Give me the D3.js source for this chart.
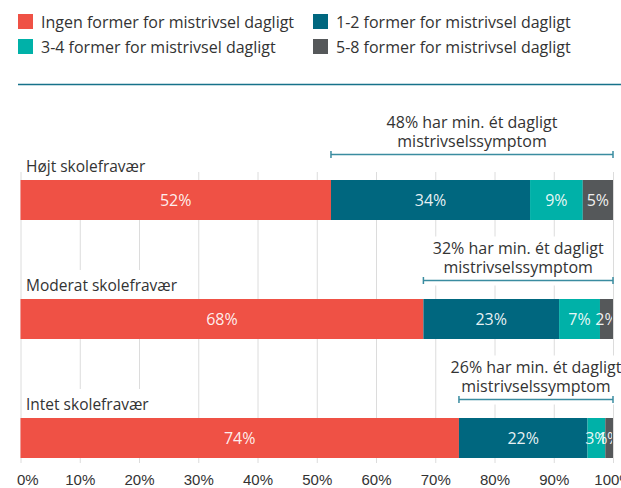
<!DOCTYPE html>
<html>
<head>
<meta charset="utf-8">
<script src="https://cdn.jsdelivr.net/npm/d3@7"></script>
<style>
  body { margin: 0; background: #fff; }
  svg { display: block; font-family: "Open Sans", sans-serif; }
  .axis text { font-size: 15px; fill: #333; }
  .axis .domain { display: none; }
  .axis line { stroke: #dcdcdc; }
</style>
</head>
<body>
<svg id="chart" width="621" height="488"></svg>
<script>
// ---------- data ----------
const categories = ["Højt skolefravær", "Moderat skolefravær", "Intet skolefravær"];
const seriesNames = [
  "Ingen former for mistrivsel dagligt",
  "1-2 former for mistrivsel dagligt",
  "3-4 former for mistrivsel dagligt",
  "5-8 former for mistrivsel dagligt"
];
const ingen = [52.4, 68.0, 74.0];
const enTo = [33.6, 22.9, 21.7];
const treFire = [8.9, 6.9, 3.0];
const femOtte = [5.1, 2.2, 1.3];
const tickValues = [0, 10, 20, 30, 40, 50, 60, 70, 80, 90, 100];
const annotationSuffix = ["har min. ét dagligt", "mistrivselssymptom"];

const colors = ["#ef5145", "#00677f", "#00b1a8", "#55585a"];
const keys = ["ingen", "enTo", "treFire", "femOtte"];

const table = categories.map((c, i) => ({
  cat: c, ingen: ingen[i], enTo: enTo[i], treFire: treFire[i], femOtte: femOtte[i]
}));

const svg = d3.select("#chart");
const fmt = d3.format(".0f");

// ---------- legend ----------
const legend = svg.append("g");
const li = legend.selectAll("g").data(seriesNames).join("g")
  .attr("transform", (d, i) => `translate(${i % 2 ? 313 : 18},${i < 2 ? 14 : 39})`);
li.append("rect").attr("width", 15).attr("height", 15).attr("fill", (d, i) => colors[i]);
li.append("text").attr("x", 23).attr("y", 13.5)
  .attr("font-size", 16).attr("fill", "#333").text(d => d);

svg.append("line")
  .attr("x1", 18).attr("x2", 621).attr("y1", 84.5).attr("y2", 84.5)
  .attr("stroke", "#16728a").attr("stroke-width", 1.5);

// ---------- scales ----------
const x = d3.scaleLinear().domain([0, 100]).range([20.5, 613]);
const y = d3.scaleBand().domain(categories).range([180, 458]).paddingInner(79 / 119);

// ---------- grid + axis ----------
const gridTop = 172, gridBottom = 463;
const axisG = svg.append("g").attr("class", "axis")
  .attr("transform", `translate(0,${gridBottom})`)
  .call(d3.axisBottom(x).tickValues(tickValues).tickFormat(d => d + "%")
    .tickSize(-(gridBottom - gridTop)).tickPadding(11.3));
axisG.selectAll(".tick text").filter(d => d === 0).attr("text-anchor", "start").attr("x", -4);

// ---------- bars ----------
const stacked = d3.stack().keys(keys)(table);
svg.append("clipPath").attr("id", "plotclip")
  .append("rect").attr("x", 0).attr("y", 0).attr("width", x(100) - 1).attr("height", 488);

const layers = svg.append("g").selectAll("g").data(stacked).join("g")
  .attr("fill", (d, i) => colors[i]);
layers.selectAll("rect").data(d => d).join("rect")
  .attr("x", d => x(d[0]))
  .attr("y", d => y(d.data.cat))
  .attr("width", d => x(d[1]) - x(d[0]))
  .attr("height", y.bandwidth());

const segLabels = svg.append("g").attr("clip-path", "url(#plotclip)");
stacked.forEach(s => {
  segLabels.selectAll(null).data(s).join("text")
    .attr("x", d => (x(d[0]) + x(d[1])) / 2)
    .attr("y", d => y(d.data.cat) + y.bandwidth() / 2 + 5.5)
    .attr("text-anchor", "middle")
    .attr("font-size", 16)
    .attr("fill", "#fff")
    .attr("fill-opacity", 0.92)
    .text(d => fmt(d[1] - d[0]) + "%");
});

// ---------- category labels ----------
const catG = svg.append("g");
categories.forEach(c => {
  const t = catG.append("text")
    .attr("x", 26).attr("y", y(c) - 8)
    .attr("font-size", 15.5).attr("fill", "#333").text(c);
  const w = t.node().getComputedTextLength();
  catG.insert("rect", "text")
    .attr("x", 23).attr("y", y(c) - 29)
    .attr("width", w + 7).attr("height", 29)
    .attr("fill", "#fff");
});

// ---------- annotations ----------
const annG = svg.append("g");
table.forEach((d, i) => {
  const by = y(d.cat) - (i === 0 ? 26 : 19) + 0.5;
  const x0 = x(d.ingen), x1 = x(100);
  const cx = (x0 + x1) / 2;
  const g = annG.append("g");
  const bg = g.append("rect").attr("fill", "#fff");
  const t1 = g.append("text").attr("x", cx).attr("y", by - 27)
    .attr("text-anchor", "middle").attr("font-size", 16).attr("fill", "#333")
    .text(fmt(100 - d.ingen) + "% " + annotationSuffix[0]);
  g.append("text").attr("x", cx).attr("y", by - 7.5)
    .attr("text-anchor", "middle").attr("font-size", 16).attr("fill", "#333")
    .text(annotationSuffix[1]);
  const w = t1.node().getComputedTextLength();
  bg.attr("x", cx - w / 2 - 3).attr("y", by - 44)
    .attr("width", w + 6).attr("height", 49);
  g.append("line").attr("x1", x0).attr("x2", x1).attr("y1", by).attr("y2", by)
    .attr("stroke", "#3a8ca0").attr("stroke-width", 1.5);
  [x0, x1].forEach(xx => g.append("line")
    .attr("x1", xx).attr("x2", xx).attr("y1", by - 3.5).attr("y2", by + 3.5)
    .attr("stroke", "#3a8ca0").attr("stroke-width", 1.5));
});
</script>
</body>
</html>
